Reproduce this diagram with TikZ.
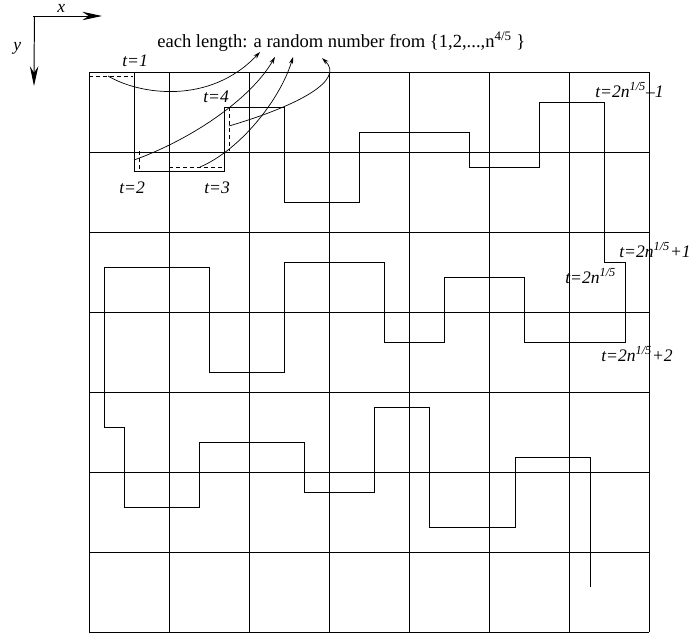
\documentclass[tikz,border=0pt]{standalone}
\usepackage{fontspec}
\setmainfont{Liberation Serif}
\usetikzlibrary{
    arrows.meta
}
\tikzset{
    >=Stealth,
    eje/.style={
        -{Stealth[length=14pt,width=6pt]},
        line width=0.7pt
    },
    rejilla/.style={line width=0.6pt},
    camino/.style={line width=0.6pt},
    tramo/.style={dash pattern=on 3pt off 2pt, line width=0.6pt},
    flecha/.style={
        -{Stealth[length=5pt,width=3pt]},
        line width=0.5pt
    },
    texto/.style={
        anchor=base west,
        inner sep=0pt,
        font=\fontsize{13.2}{15}\selectfont
    },
    etiqueta/.style={
        texto,
        font=\fontsize{12.5}{15}\selectfont\itshape
    }
}

\begin{document}
\begin{tikzpicture}[
    x=0.025cm,
    y=-0.025cm
]
    \useasboundingbox (0,0) rectangle (691,633);

    % Ejes
    \coordinate (o)  at (33,16);
    \coordinate (ox) at (102,16);
    \coordinate (oy) at (34,86);
    \draw[eje] (o) -- (ox);
    \draw[eje] ([xshift=1]o) -- (oy);
    \node[etiqueta] (lx) at (57,12) {x};
    \node[etiqueta] (ly) at (13,50) {y};

    % Rejilla
    \foreach \i in {0,...,7} {
        \draw[rejilla] (89+80*\i,72) -- (89+80*\i,632);
        \draw[rejilla] (89,72+80*\i) -- (649,72+80*\i);
    }

    % Camino
    \draw[camino]
        (89,72) -- (134,72) -- (134,171) -- (224,171) -- (224,107)
        -- (284,107) -- (284,202) -- (359,202) -- (359,132)
        -- (469,132) -- (469,167) -- (539,167) -- (539,102)
        -- (604,102) -- (604,262) -- (625,262) -- (625,342)
        -- (524,342) -- (524,277) -- (444,277) -- (444,342)
        -- (384,342) -- (384,262) -- (284,262) -- (284,372)
        -- (209,372) -- (209,267) -- (104,267) -- (104,427)
        -- (124,427) -- (124,507) -- (199,507) -- (199,442)
        -- (304,442) -- (304,492) -- (374,492) -- (374,407)
        -- (429,407) -- (429,527) -- (515,527) -- (515,457)
        -- (590,457) -- (590,587);

    % Longitudes (tramos discontinuos)
    \draw[tramo] (89,76)  -- (133,76);
    \draw[tramo] (139,151) -- (139,171);
    \draw[tramo] (169,167) -- (224,167);
    \draw[tramo] (229,107) -- (229,151);

    % Texto
    \node[texto] (titulo) at (157,47)
        {each length: a random number from \{1,2,...,n\textsuperscript{4/5}\ \}};

    \node[etiqueta] (t1) at (122,66)  {t=1};
    \node[etiqueta] (t2) at (119,193) {t=2};
    \node[etiqueta] (t3) at (204,193) {t=3};
    \node[etiqueta] (t4) at (203,102) {t=4};
    \node[etiqueta] (ta) at (595,97)  {t=2n\textsuperscript{1/5}\textendash1};
    \node[etiqueta] (tb) at (619,257) {t=2n\textsuperscript{1/5}+1};
    \node[etiqueta] (tc) at (565,283) {t=2n\textsuperscript{1/5}};
    \node[etiqueta] (td) at (601,361) {t=2n\textsuperscript{1/5}+2};

    % Flechas hacia el texto
    \coordinate (s1) at (108,76);
    \coordinate (s2) at (134,160);
    \coordinate (s3) at (200,167);
    \coordinate (s4) at (229,126);
    \coordinate (e1) at (260,52);
    \coordinate (e2) at (275,57);
    \coordinate (e3) at (293,57);
    \coordinate (e4) at (322,58);

    \draw[flecha] (s1) .. controls (140,95) and (210,105) .. (e1);
    \draw[flecha] (s2) .. controls (190,140) and (250,100) .. (e2);
    \draw[flecha] (s3) .. controls (240,150) and (280,100) .. (e3);
    \draw[flecha] (s4) .. controls (300,105) and (345,80) .. (e4);

\end{tikzpicture}
\end{document}
